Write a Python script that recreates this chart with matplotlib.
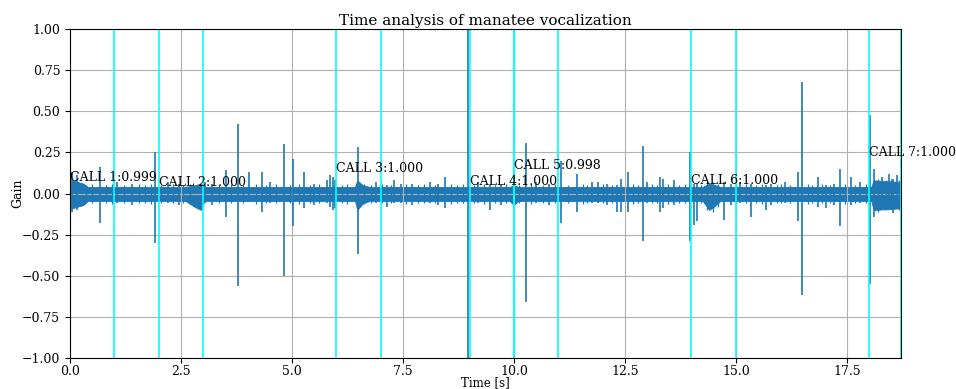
import matplotlib
matplotlib.use("Agg")
import matplotlib.pyplot as plt

plt.rcParams['font.family'] = ['DejaVu Serif']

# ---- data ----
t_end = 18.72

# noise band envelope (linear between points)
band_t  = [0.0, 0.05, 0.3, 0.4, 2.6, 2.8, 2.95, 3.0, 3.05, 6.42, 6.47, 6.6, 6.75,
           9.9, 10.0, 10.1, 14.25, 14.4, 14.55, 14.65, 18.05, 18.1, 18.72]
band_hi = [0.07, 0.08, 0.06, 0.04, 0.04, 0.05, 0.06, 0.045, 0.04, 0.04, 0.08, 0.05, 0.04,
           0.04, 0.05, 0.04, 0.04, 0.06, 0.05, 0.04, 0.04, 0.08, 0.07]
band_lo = [-0.08, -0.09, -0.07, -0.045, -0.045, -0.08, -0.10, -0.06, -0.045, -0.045, -0.10, -0.06, -0.045,
           -0.045, -0.07, -0.045, -0.045, -0.10, -0.07, -0.045, -0.045, -0.10, -0.09]

# transient spikes: time, upper, lower
spike_t  = [0.04, 0.15, 0.68, 1.91, 3.51, 3.79, 4.04, 4.33, 4.81, 5.02, 5.27,
            5.78, 5.85, 5.92, 5.97, 6.48, 7.14, 7.45, 8.45, 8.97, 9.46, 10.28,
            11.07, 11.41, 11.75, 12.32, 12.42, 12.56, 12.91, 13.30, 13.35, 13.96,
            14.05, 14.12, 14.73, 15.34, 15.68, 16.39, 16.50, 16.85, 17.03, 17.34,
            17.59, 18.03, 18.10, 18.30, 18.45, 18.55, 18.62,
            1.05, 1.40, 2.20, 2.45, 3.05, 3.20, 4.50, 5.50, 6.90, 7.30, 7.70,
            8.10, 8.30, 9.20, 9.70, 10.50, 10.80, 11.90, 12.10, 13.00, 13.60,
            14.90, 15.10, 15.80, 16.10, 17.20, 17.80]
spike_hi = [0.13, 0.11, 0.16, 0.25, 0.14, 0.42, 0.13, 0.13, 0.30, 0.21, 0.13,
            0.08, 0.11, 0.10, 0.08, 0.28, 0.05, 0.06, 0.10, 1.05, 0.05, 0.31,
            0.20, 0.12, 0.07, 0.05, 0.09, 0.13, 0.29, 0.10, 0.09, 0.25,
            0.06, 0.06, 0.07, 0.06, 0.05, 0.13, 0.68, 0.10, 0.05, 0.15,
            0.10, 0.48, 0.15, 0.10, 0.12, 0.09, 0.11,
            0.07, 0.06, 0.07, 0.06, 0.07, 0.06, 0.07, 0.06, 0.07, 0.08, 0.06,
            0.07, 0.06, 0.07, 0.06, 0.07, 0.06, 0.07, 0.06, 0.07, 0.08,
            0.06, 0.07, 0.06, 0.07, 0.06, 0.07]
spike_lo = [-0.11, -0.10, -0.18, -0.30, -0.14, -0.56, -0.05, -0.11, -0.50, -0.20, -0.09,
            -0.06, -0.08, -0.10, -0.09, -0.37, -0.08, -0.06, -0.09, -1.05, -0.10, -0.66,
            -0.18, -0.11, -0.06, -0.11, -0.11, -0.11, -0.29, -0.11, -0.09, -0.29,
            -0.19, -0.17, -0.16, -0.14, -0.10, -0.17, -0.62, -0.08, -0.09, -0.20,
            -0.07, -0.55, -0.14, -0.08, -0.07, -0.12, -0.09,
            -0.06, -0.07, -0.06, -0.07, -0.06, -0.07, -0.06, -0.07, -0.06, -0.06, -0.07,
            -0.06, -0.07, -0.06, -0.07, -0.06, -0.07, -0.06, -0.07, -0.06, -0.07,
            -0.07, -0.06, -0.07, -0.06, -0.07, -0.06]

# fine ripples on the noise floor: time, upper, lower
ripple_t  = [0.35, 0.50, 0.82, 0.95, 1.22, 1.55, 1.70, 1.82, 2.05, 2.32, 2.55, 2.70,
             3.35, 3.62, 3.90, 4.18, 4.42, 4.65, 4.95, 5.15, 5.40, 5.62, 6.12, 6.25,
             6.62, 6.78, 7.02, 7.22, 7.58, 7.85, 7.98, 8.22, 8.58, 8.72, 8.85, 9.10,
             9.33, 9.58, 9.82, 10.12, 10.38, 10.65, 10.92, 11.22, 11.55, 11.65, 12.00,
             12.22, 12.68, 12.80, 13.12, 13.22, 13.48, 13.72, 13.85, 14.22, 14.35,
             14.48, 14.60, 15.00, 15.22, 15.45, 15.58, 15.92, 16.02, 16.22, 16.62,
             16.72, 16.95, 17.12, 17.45, 17.68, 17.92, 18.20, 18.38, 18.50, 18.68]
ripple_hi = [0.05, 0.055, 0.05, 0.06, 0.05, 0.055, 0.05, 0.06, 0.05, 0.055, 0.05, 0.06,
             0.05, 0.055, 0.05, 0.06, 0.05, 0.055, 0.05, 0.06, 0.05, 0.055, 0.05, 0.06,
             0.06, 0.05, 0.055, 0.05, 0.06, 0.05, 0.055, 0.05, 0.06, 0.05, 0.055, 0.05,
             0.06, 0.05, 0.055, 0.05, 0.06, 0.05, 0.055, 0.05, 0.06, 0.05, 0.055,
             0.05, 0.06, 0.05, 0.055, 0.05, 0.06, 0.05, 0.055, 0.05, 0.07,
             0.07, 0.06, 0.05, 0.055, 0.05, 0.06, 0.05, 0.055, 0.05, 0.06,
             0.05, 0.055, 0.05, 0.06, 0.05, 0.055, 0.09, 0.08, 0.09, 0.08]
ripple_lo = [-0.055, -0.06, -0.055, -0.065, -0.055, -0.06, -0.055, -0.065, -0.055, -0.06, -0.055, -0.065,
             -0.055, -0.06, -0.055, -0.065, -0.055, -0.06, -0.055, -0.065, -0.055, -0.06, -0.055, -0.065,
             -0.065, -0.055, -0.06, -0.055, -0.065, -0.055, -0.06, -0.055, -0.065, -0.055, -0.06, -0.055,
             -0.065, -0.055, -0.06, -0.055, -0.065, -0.055, -0.06, -0.055, -0.065, -0.055, -0.06,
             -0.055, -0.065, -0.055, -0.06, -0.055, -0.065, -0.055, -0.06, -0.055, -0.10,
             -0.11, -0.08, -0.055, -0.06, -0.055, -0.065, -0.055, -0.06, -0.055, -0.065,
             -0.055, -0.06, -0.055, -0.065, -0.055, -0.06, -0.11, -0.10, -0.09, -0.10]

# detected calls
call_names  = ["CALL 1", "CALL 2", "CALL 3", "CALL 4", "CALL 5", "CALL 6", "CALL 7"]
call_start  = [0.0, 2.0, 6.0, 9.0, 10.0, 14.0, 18.0]
call_end    = [1.0, 3.0, 7.0, 10.0, 11.0, 15.0, 18.72]
call_score  = [0.999, 1.000, 1.000, 1.000, 0.998, 1.000, 1.000]
call_text_y = [0.076, 0.047, 0.13, 0.049, 0.15, 0.06, 0.23]

# ---- figure ----
fig = plt.figure(figsize=(9.56, 3.89), dpi=100)
ax = fig.add_axes([0.0732, 0.0797, 0.8693, 0.8457])

sig_color = '#1f77b4'
ax.fill_between(band_t, band_lo, band_hi, color=sig_color, linewidth=0.6)
ax.vlines(ripple_t, ripple_lo, ripple_hi, color=sig_color, linewidth=0.9)
ax.vlines(spike_t, spike_lo, spike_hi, color=sig_color, linewidth=1.2)

for s, e, name, sc, ty in zip(call_start, call_end, call_names, call_score, call_text_y):
    ax.axvline(s, color='cyan', linewidth=1.2)
    ax.axvline(e, color='cyan', linewidth=1.2)
    ax.text(s, ty, f"{name}:{sc:.3f}", fontsize=9)

ax.set_xlim(0, t_end)
ax.set_ylim(-1, 1)
ax.grid(True)
ax.set_title("Time analysis of manatee vocalization", fontsize=11, pad=3)
ax.set_xlabel("Time [s]", fontsize=8.5, labelpad=-1)
ax.set_ylabel("Gain", fontsize=9, labelpad=-1.5)
ax.tick_params(labelsize=9)
ax.tick_params(axis='x', pad=1.5)

fig.savefig("out.png", dpi=100)
